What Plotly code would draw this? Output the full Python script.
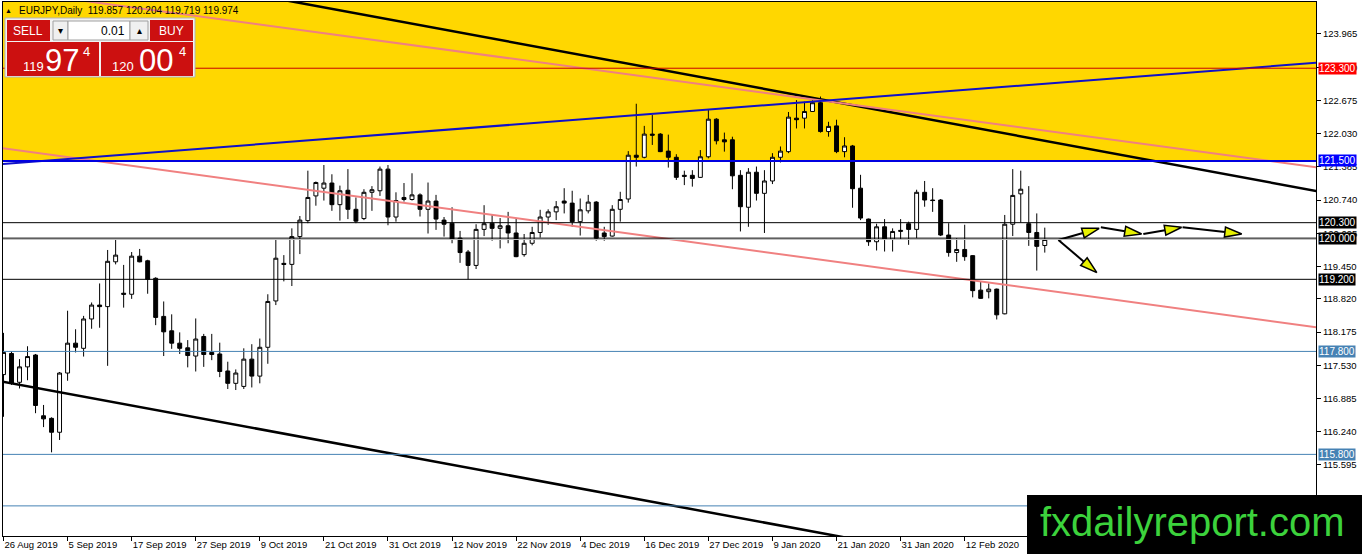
import math
import plotly.graph_objects as go

# EURJPY daily bars, index 0 = 26 Aug 2019 ... index 130 = 26 Feb 2020
bar_open = [117.35, 117.76, 117.20, 117.50, 117.73, 116.55, 116.50, 116.23, 117.38, 117.96,
            117.86, 118.43, 118.70, 118.67, 119.54, 118.93, 118.91, 119.65, 119.56, 119.22,
            118.48, 118.20, 117.96, 117.87, 117.71, 118.09, 117.78, 117.75, 117.42, 117.18,
            117.12, 117.65, 117.32, 117.88, 118.78, 119.51, 119.49, 120.03, 120.34, 120.82,
            120.97, 121.07, 120.65, 120.93, 120.56, 120.38, 120.89, 120.92, 121.34, 120.41,
            120.79, 120.75, 120.84, 120.56, 120.72, 120.35, 120.29, 120.00, 119.73, 119.47,
            120.17, 120.29, 120.19, 120.24, 120.10, 119.68, 119.90, 120.11, 120.41, 120.51,
            120.72, 120.68, 120.32, 120.53, 120.70, 120.10, 120.04, 120.56, 120.76, 121.61,
            121.57, 122.02, 122.02, 121.69, 121.57, 121.22, 121.22, 121.18, 121.58, 122.31,
            121.91, 121.91, 121.22, 120.60, 121.28, 120.87, 121.11, 121.57, 121.68, 122.33,
            122.33, 122.46, 122.63, 122.07, 122.18, 121.68, 121.79, 120.97, 120.37, 119.93,
            120.22, 119.98, 120.13, 120.28, 120.17, 120.89, 120.74, 120.74, 120.06, 119.72,
            119.78, 119.66, 118.99, 118.96, 119.01, 118.53, 120.27, 120.86, 120.28, 120.11,
            119.857]
bar_high = [118.16, 117.80, 117.65, 117.90, 117.75, 116.76, 116.52, 117.40, 118.59, 118.23,
            118.49, 118.75, 119.12, 119.77, 119.97, 119.48, 119.73, 119.79, 119.58, 119.24,
            118.77, 118.52, 118.17, 118.02, 118.44, 118.14, 118.14, 117.97, 117.60, 117.45,
            117.86, 117.94, 118.05, 118.91, 119.97, 119.67, 120.19, 120.43, 121.31, 121.10,
            121.42, 121.24, 121.02, 121.34, 120.79, 120.95, 121.01, 121.39, 121.42, 120.89,
            121.07, 121.26, 120.87, 121.08, 120.84, 120.41, 120.60, 120.14, 119.77, 120.27,
            120.64, 120.45, 120.39, 120.51, 120.39, 120.08, 120.22, 120.55, 120.56, 120.72,
            120.97, 120.92, 120.77, 120.84, 120.72, 120.22, 120.64, 120.90, 121.69, 122.61,
            122.18, 122.39, 122.04, 122.01, 121.63, 121.31, 121.32, 121.71, 122.50, 122.33,
            122.05, 121.97, 121.32, 121.36, 121.39, 121.32, 121.65, 121.78, 122.45, 122.68,
            122.65, 122.68, 122.75, 122.26, 122.30, 121.96, 121.81, 121.23, 120.38, 120.28,
            120.37, 120.19, 120.37, 120.32, 120.94, 121.11, 120.97, 120.76, 120.29, 120.00,
            120.26, 119.67, 119.16, 119.12, 119.02, 120.45, 121.34, 121.31, 121.01, 120.48,
            120.204]
bar_low = [116.53, 117.15, 117.08, 117.24, 116.60, 116.33, 115.84, 116.08, 117.23, 117.78,
           117.70, 118.24, 118.26, 117.52, 119.49, 118.65, 118.82, 119.53, 118.92, 118.31,
           117.71, 117.85, 117.75, 117.49, 117.41, 117.50, 117.63, 117.30, 117.07, 117.05,
           117.07, 117.10, 117.18, 117.56, 118.70, 119.16, 119.07, 119.69, 120.29, 120.63,
           120.73, 120.53, 120.34, 120.37, 120.29, 120.35, 120.53, 120.82, 120.25, 120.32,
           120.71, 120.73, 120.42, 120.09, 120.16, 120.03, 119.90, 119.52, 119.20, 119.40,
           120.04, 119.95, 119.80, 119.90, 119.63, 119.64, 119.86, 120.01, 120.26, 120.35,
           120.48, 120.22, 120.05, 120.48, 119.95, 119.95, 120.03, 120.32, 120.69, 121.39,
           121.55, 121.81, 121.67, 121.37, 121.13, 121.03, 121.00, 121.17, 121.55, 121.82,
           121.68, 120.95, 120.13, 120.22, 120.73, 120.10, 121.05, 121.47, 121.65, 122.13,
           122.13, 122.45, 122.05, 121.97, 121.65, 121.57, 120.59, 120.35, 119.85, 119.76,
           119.74, 119.74, 119.98, 119.87, 120.00, 120.61, 120.51, 120.04, 119.64, 119.54,
           119.56, 118.85, 118.82, 118.83, 118.42, 118.52, 120.04, 120.30, 119.85, 119.37,
           119.719]
bar_close = [117.78, 117.18, 117.50, 117.70, 116.75, 116.49, 116.23, 117.38, 117.96, 117.88,
             118.43, 118.70, 118.67, 119.55, 119.67, 118.91, 119.65, 119.54, 119.20, 118.46,
             118.18, 117.96, 117.86, 117.72, 118.04, 117.74, 117.74, 117.41, 117.18, 117.38,
             117.65, 117.32, 117.88, 118.77, 119.61, 119.49, 120.03, 120.35, 120.79, 121.08,
             121.07, 120.65, 120.92, 120.56, 120.33, 120.89, 120.94, 121.34, 120.41, 120.73,
             120.75, 120.84, 120.56, 120.72, 120.37, 120.27, 119.98, 119.72, 119.47, 120.17,
             120.28, 120.19, 120.24, 120.10, 119.64, 119.90, 120.11, 120.41, 120.51, 120.61,
             120.68, 120.32, 120.55, 120.70, 120.00, 120.03, 120.56, 120.75, 121.61, 121.57,
             122.02, 122.00, 121.68, 121.57, 121.18, 121.20, 121.16, 121.58, 122.31, 121.89,
             121.87, 121.21, 120.61, 121.28, 120.87, 121.11, 121.57, 121.69, 122.35, 122.30,
             122.46, 122.63, 122.07, 122.17, 121.68, 121.79, 120.96, 120.39, 119.93, 120.22,
             119.98, 120.13, 120.15, 120.17, 120.89, 120.74, 120.73, 120.06, 119.72, 119.78,
             119.64, 118.98, 118.83, 119.01, 118.51, 120.27, 120.83, 120.95, 120.11, 119.84,
             119.974]

tick_bars = [0, 8, 16, 24, 32, 40, 48, 56, 64, 72, 80, 88, 96, 104, 112, 120]
tick_text = ["26 Aug 2019", "5 Sep 2019", "17 Sep 2019", "27 Sep 2019", "9 Oct 2019",
             "21 Oct 2019", "31 Oct 2019", "12 Nov 2019", "22 Nov 2019", "4 Dec 2019",
             "16 Dec 2019", "27 Dec 2019", "9 Jan 2020", "21 Jan 2020", "31 Jan 2020",
             "12 Feb 2020"]
price_ticks = [123.965, 123.320, 122.675, 122.030, 121.385, 120.740, 120.095, 119.450,
               118.820, 118.175, 117.530, 116.885, 116.240, 115.595, 114.950]

# horizontal levels drawn on the chart
levels = [123.300, 121.500, 120.300, 120.000, 119.200, 117.800, 115.800, 114.800]
level_line_colors = ["#c80000", "#0000e0", "black", "black", "black", "#4682b4", "#4682b4", "#4682b4"]
level_label_colors = ["#ff0000", "#0000ff", "black", "black", "black", "#4682b4", "#4682b4", None]
level_widths = [1, 2, 1, 1, 1, 1, 1, 1]
zone_bottom = 121.500

# trend lines, each given by two (bar, price) anchors
trend_bars = {"black_upper": [40, 160], "black_lower": [0, 100],
              "pink_upper": [0, 160], "pink_lower": [0, 160], "blue": [0, 160]}
trend_prices = {"black_upper": [124.481, 121.027], "black_lower": [117.210, 114.332],
                "pink_upper": [124.819, 121.459], "pink_lower": [121.744, 118.352],
                "blue": [121.442, 123.359]}
trend_styles = {"black_upper": ("black", 2.5), "black_lower": ("black", 2.5),
                "pink_upper": ("#f08080", 2), "pink_lower": ("#f08080", 2),
                "blue": ("#1010c8", 2)}

# projected path arrows
arrow_from_bar = [131.7, 137.0, 142.3, 147.2, 131.7]
arrow_from_price = [119.964, 120.211, 120.081, 120.211, 119.964]
arrow_to_bar = [136.8, 142.1, 147.1, 154.6, 136.5]
arrow_to_price = [120.191, 120.081, 120.211, 120.081, 119.329]

W, H = 1362, 554
ML, MR, MT, MB = 3, 46, 2, 18
PW, PH = W - ML - MR, H - MT - MB
x_min, x_max = -0.062, 163.86
y_min, y_max = 114.215, 124.586
sx = PW / (x_max - x_min)
sy = PH / (y_max - y_min)


def pxx(x):
    return (x - ML) / PW


def pxy(y):
    return (H - MB - y) / PH


n = len(bar_close)
fig = go.Figure()
fig.add_trace(go.Candlestick(
    x=list(range(n)), open=bar_open, high=bar_high, low=bar_low, close=bar_close,
    increasing=dict(line=dict(color="black", width=1), fillcolor="white"),
    decreasing=dict(line=dict(color="black", width=1), fillcolor="black"),
    whiskerwidth=0, showlegend=False, hoverinfo="skip"))

# trend lines extended across the whole window
for name, bars in trend_bars.items():
    p = trend_prices[name]
    slope = (p[1] - p[0]) / (bars[1] - bars[0])
    xs = [x_min - 5, x_max + 5]
    ys = [p[0] + slope * (x - bars[0]) for x in xs]
    color, width = trend_styles[name]
    fig.add_trace(go.Scatter(x=xs, y=ys, mode="lines", line=dict(color=color, width=width),
                             showlegend=False, hoverinfo="skip"))

# arrows: shaft + outlined yellow head
for x0, y0, x1, y1 in zip(arrow_from_bar, arrow_from_price, arrow_to_bar, arrow_to_price):
    dx, dy = (x1 - x0) * sx, (y1 - y0) * sy
    d = math.hypot(dx, dy)
    ux, uy = dx / d, dy / d
    hl, hw = 17, 5
    bx, by = dx - ux * hl, dy - uy * hl
    nx, ny = -uy, ux
    pts = [(dx, dy), (bx + nx * hw, by + ny * hw), (bx - nx * hw, by - ny * hw), (dx, dy)]
    fig.add_trace(go.Scatter(x=[x0, x0 + bx / sx], y=[y0, y0 + by / sy], mode="lines",
                             line=dict(color="black", width=2), showlegend=False, hoverinfo="skip"))
    fig.add_trace(go.Scatter(x=[x0 + p[0] / sx for p in pts], y=[y0 + p[1] / sy for p in pts],
                             mode="lines", fill="toself", fillcolor="#e6f000",
                             line=dict(color="black", width=1.5), showlegend=False, hoverinfo="skip"))

shapes = []
annotations = []

# yellow zone above 121.5
shapes.append(dict(type="rect", xref="paper", yref="y", x0=0, x1=1, y0=zone_bottom, y1=y_max,
                   fillcolor="#ffd700", line=dict(width=0), layer="below"))

# bid line
shapes.append(dict(type="line", xref="paper", yref="y", x0=0, x1=1, y0=bar_close[-1], y1=bar_close[-1],
                   line=dict(color="#c0c0c0", width=1), layer="above"))

for lv, lc, bc, lw in zip(levels, level_line_colors, level_label_colors, level_widths):
    shapes.append(dict(type="line", xref="paper", yref="y", x0=0, x1=1, y0=lv, y1=lv,
                       line=dict(color=lc, width=lw), layer="above"))
    if bc:
        annotations.append(dict(x=1, xref="paper", y=lv, yref="y", xanchor="left", yanchor="middle",
                                xshift=2, text=f"{lv:.3f}", showarrow=False, bgcolor=bc, borderpad=0,
                                font=dict(family="Liberation Sans", size=10, color="white")))


def box(x0, y0, x1, y1, fill, line="rgba(0,0,0,0)", lw=1):
    shapes.append(dict(type="rect", xref="paper", yref="paper", x0=pxx(x0), x1=pxx(x1),
                       y0=pxy(y1), y1=pxy(y0), fillcolor=fill, line=dict(color=line, width=lw),
                       layer="above"))


def label(x, y, text, size, color="white", anchor="center", family="Liberation Sans"):
    annotations.append(dict(x=pxx(x), y=pxy(y), xref="paper", yref="paper", text=text,
                            showarrow=False, xanchor=anchor, yanchor="middle",
                            font=dict(family=family, size=size, color=color)))


# one-click trading panel
red = "#cc1010"
box(5, 18, 195, 77, "#f2f2f2", "#b4b4b4")
box(7, 20, 50, 41, red)
box(53, 21, 68, 40, "#f0f0f0", "#a0a0a0")
box(68, 21, 130, 40, "white", "#a0a0a0")
box(130, 21, 148, 40, "#f0f0f0", "#a0a0a0")
box(150, 20, 193, 41, red)
box(7, 42, 99, 76, red)
box(101, 42, 193, 76, red)
label(28, 31, "SELL", 12)
label(171, 31, "BUY", 12)
label(127, 31, "0.01", 12, "black", "right")
label(60, 30, "▾", 10, "black")
label(139, 30, "▴", 10, "black")
label(33, 67, "119", 13)
label(62, 60, "97", 31)
label(86, 51, "4", 13)
label(123, 67, "120", 13)
label(156, 60, "00", 31)
label(182, 51, "4", 13)

# header
label(8, 10, "▲", 7, "black")
label(17, 10, "EURJPY,Daily  119.857 120.204 119.719 119.974", 10, "black", "left")

# watermark
shapes.append(dict(type="rect", xref="paper", yref="paper", x0=pxx(1027), x1=pxx(W + 2),
                   y0=pxy(H + 2), y1=pxy(495), fillcolor="black", line=dict(width=0), layer="above"))
label(1192, 522, "fxdailyreport.com", 40, "#3cd23c")

axis_font = dict(family="Liberation Sans", size=9.5, color="black")
fig.update_layout(
    width=W, height=H,
    margin=dict(l=ML, r=MR, t=MT, b=MB, pad=0),
    paper_bgcolor="white", plot_bgcolor="white",
    showlegend=False,
    shapes=shapes, annotations=annotations,
    xaxis=dict(range=[x_min, x_max], tickvals=tick_bars, ticktext=tick_text,
               ticks="outside", ticklen=4, tickcolor="black", ticklabelposition="outside right",
               showgrid=False, zeroline=False, showline=True, linecolor="black", mirror=True,
               tickfont=axis_font, rangeslider=dict(visible=False), fixedrange=True),
    yaxis=dict(side="right", range=[y_min, y_max], tickvals=price_ticks,
               ticktext=[f"{v:.3f}" for v in price_ticks],
               ticks="outside", ticklen=4, tickcolor="black",
               showgrid=False, zeroline=False, showline=True, linecolor="black", mirror=True,
               tickfont=axis_font, fixedrange=True),
)

fig.write_html("out.html", config={"displayModeBar": False},
               post_script="document.body.style.margin='0';document.body.style.overflow='hidden';")
